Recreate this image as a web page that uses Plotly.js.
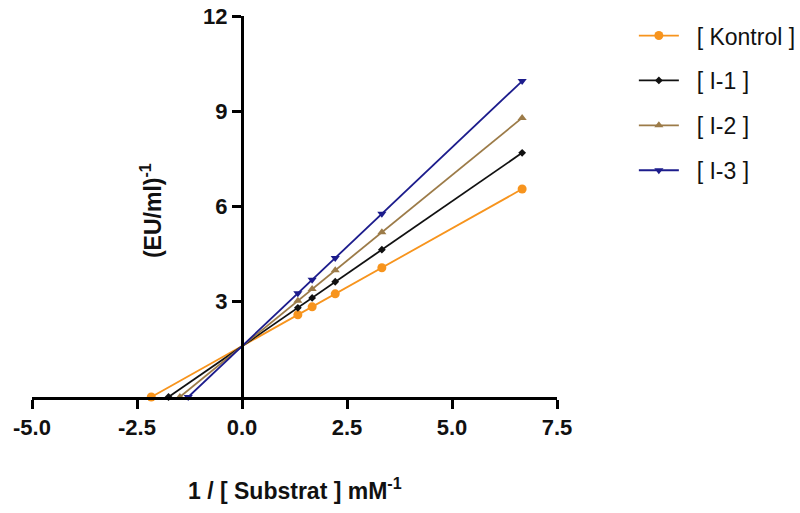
<!DOCTYPE html>
<html>
<head>
<meta charset="utf-8">
<script src="https://cdn.plot.ly/plotly-3.0.1.min.js"></script>
<style>
html,body{margin:0;padding:0;background:#fff;}
#chart{width:800px;height:513px;}
</style>
</head>
<body>
<div id="chart"></div>
<script>
// Data
const seriesNames = ["[ Kontrol ]", "[ I-1 ]", "[ I-2 ]", "[ I-3 ]"];
const xData = [1.33, 1.67, 2.22, 3.33, 6.67];
const xIntercepts = [-2.16, -1.75, -1.48, -1.28];
const kontrol = [2.59, 2.84, 3.25, 4.07, 6.55];
const i1 = [2.81, 3.12, 3.63, 4.64, 7.69];
const i2 = [3.03, 3.40, 3.99, 5.19, 8.79];
const i3 = [3.27, 3.69, 4.38, 5.77, 9.95];
const xTickVals = [-5, -2.5, 0, 2.5, 5, 7.5];
const xTickText = ["-5.0", "-2.5", "0.0", "2.5", "5.0", "7.5"];
const yTickVals = [3, 6, 9, 12];

const seriesValues = [kontrol, i1, i2, i3];
const colors = ["#F7941D", "#111111", "#9C7B48", "#1C1C8C"];
const symbols = ["circle", "diamond", "triangle-up", "triangle-down"];
const sizes = [9, 6, 8, 8];

const traces = seriesValues.map((vals, i) => ({
  type: "scatter",
  mode: "lines+markers",
  name: "\u00a0\u00a0" + seriesNames[i],
  legendgroup: "g" + i,
  x: [xIntercepts[i]].concat(xData),
  y: [0].concat(vals),
  line: {color: colors[i], width: 1.8},
  marker: {color: colors[i], symbol: symbols[i], size: sizes[i]},
  cliponaxis: false
}));

const FONT = "Arial, 'Liberation Sans', sans-serif";

const layout = {
  width: 800,
  height: 513,
  margin: {l: 32, r: 243, t: 16, b: 116, autoexpand: false},
  paper_bgcolor: "#fff",
  plot_bgcolor: "rgba(0,0,0,0)",
  showlegend: true,
  legend: {
    x: 1.1464, xanchor: "left",
    y: 1.005, yanchor: "top",
    traceorder: "grouped",
    tracegroupgap: 12,
    font: {family: FONT, size: 23, color: "#111"},
    bgcolor: "rgba(0,0,0,0)",
    itemwidth: 40
  },
  xaxis: {
    range: [-5, 7.5],
    domain: [0, 1],
    automargin: false,
    showgrid: false,
    zeroline: false,
    showline: true,
    linecolor: "#000",
    linewidth: 3,
    ticks: "outside",
    ticklen: 9,
    tickwidth: 3,
    tickcolor: "#000",
    tickvals: xTickVals,
    ticktext: xTickText,
    tickfont: {family: FONT, size: 22, color: "#111", weight: "bold"},
    fixedrange: true
  },
  yaxis: {
    range: [0, 12],
    domain: [0, 1],
    automargin: false,
    anchor: "free",
    position: 0.4,
    showgrid: false,
    zeroline: false,
    showline: true,
    linecolor: "#000",
    linewidth: 3,
    ticks: "outside",
    ticklen: 9,
    tickwidth: 3,
    tickcolor: "#000",
    tickvals: yTickVals,
    tickfont: {family: FONT, size: 22, color: "#111", weight: "bold"},
    fixedrange: true
  },
  annotations: [
    {
      text: "<b>(EU/ml)<sup>-1</sup></b>",
      xref: "paper", yref: "paper",
      x: (151 - 32) / 525, y: 0.488,
      xanchor: "center", yanchor: "middle",
      textangle: -90,
      showarrow: false,
      font: {family: FONT, size: 23, color: "#111"}
    },
    {
      text: "<b>1 / [ Substrat ] mM<sup>-1</sup></b>",
      xref: "paper", yref: "paper",
      x: 0.5, y: (397 - 489) / 381,
      xanchor: "center", yanchor: "middle",
      showarrow: false,
      font: {family: FONT, size: 23, color: "#111"}
    }
  ]
};

Plotly.newPlot("chart", traces, layout, {displayModeBar: false, staticPlot: true});
</script>
</body>
</html>
